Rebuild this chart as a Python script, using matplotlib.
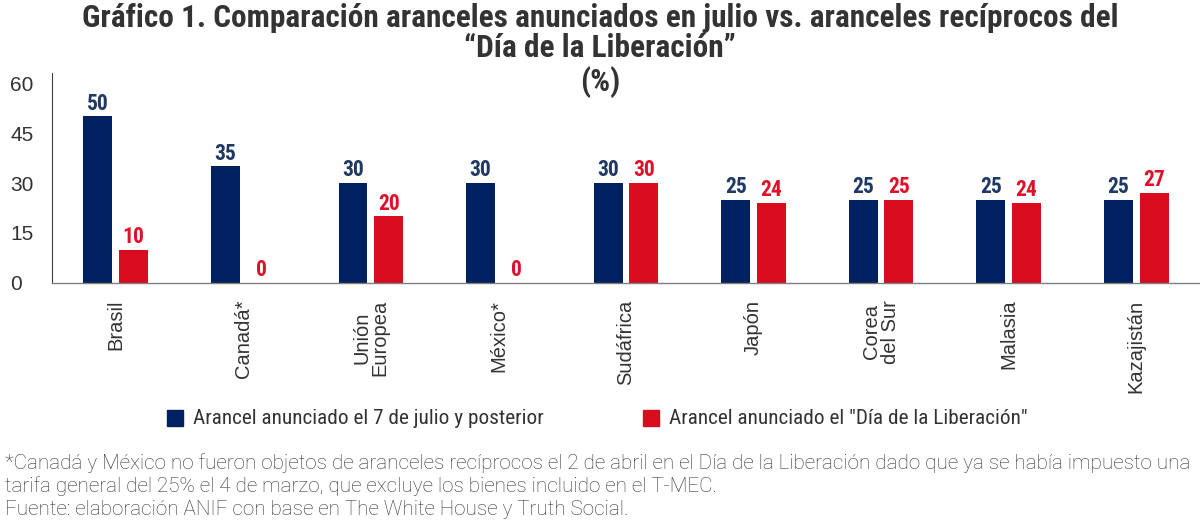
import matplotlib
matplotlib.use("Agg")
import matplotlib.pyplot as plt
import numpy as np
from matplotlib.patches import Rectangle

categories = ["Brasil", "Canadá*", "Unión\nEuropea", "México*", "Sudáfrica",
              "Japón", "Corea\ndel Sur", "Malasia", "Kazajistán"]
julio = [50, 35, 30, 30, 30, 25, 25, 25, 25]
liberacion = [10, 0, 20, 0, 30, 24, 25, 24, 27]
yticks = [0, 15, 30, 45, 60]

series_labels = ["Arancel anunciado el 7 de julio y posterior",
                 'Arancel anunciado el "Día de la Liberación"']

BLUE = "#002060"
RED = "#D90C1F"
BLUE_TXT = "#1F3864"
RED_TXT = "#E0102A"
GRAY = "#333333"

COND = ["Roboto Condensed", "DejaVu Sans"]
ARIAL = ["Liberation Sans", "DejaVu Sans"]
FOOT = ["Roboto", "DejaVu Sans"]

fig = plt.figure(figsize=(12, 5.23), dpi=100)
ax = fig.add_axes([0.0433, 0.4589, 0.9567, 0.4015])

x = np.arange(len(categories))
w = 0.227
off = 0.14
ax.bar(x - off, julio, width=w, color=BLUE)
ax.bar(x + off, liberacion, width=w, color=RED)

for xi, v in zip(x, julio):
    ax.text(xi - off, v + 0.5, f"{v}", ha="center", va="bottom", color=BLUE_TXT,
            fontsize=15.5, fontweight="bold", family=COND)
for xi, v in zip(x, liberacion):
    ax.text(xi + off, v + 0.5, f"{v}", ha="center", va="bottom", color=RED_TXT,
            fontsize=15.5, fontweight="bold", family=COND)

ax.set_xlim(-0.5, len(categories) - 0.5)
ax.set_ylim(0, 63)
ax.set_yticks(yticks)
ax.set_yticklabels([str(t) for t in yticks], fontsize=15, color=GRAY, family=ARIAL)
ax.set_xticks(x)
ax.set_xticklabels(categories, rotation=90, fontsize=14.5, color=GRAY, family=ARIAL,
                   va="top", ha="center", linespacing=0.95)
ax.tick_params(axis="x", length=0, pad=12)
ax.tick_params(axis="y", length=0, pad=30)
for s in ["top", "right"]:
    ax.spines[s].set_visible(False)
ax.spines["left"].set_color("#404040")
ax.spines["bottom"].set_color("#808080")
ax.spines["left"].set_linewidth(0.8)
ax.spines["bottom"].set_linewidth(1.0)
for lab in ax.get_yticklabels():
    lab.set_horizontalalignment("left")

fig.text(0.5, 0.965, "Gráfico 1. Comparación aranceles anunciados en julio vs. aranceles recíprocos del",
         ha="center", va="center", fontsize=22.5, fontweight="bold", color=GRAY, family=COND)
fig.text(0.5, 0.908, "“Día de la Liberación”", ha="center", va="center", fontsize=22.5,
         fontweight="bold", color=GRAY, family=COND)
fig.text(0.5, 0.843, "(%)", ha="center", va="center", fontsize=22.5,
         fontweight="bold", color=GRAY, family=COND)

# legend
for xs, col, lab in [(167, BLUE, series_labels[0]), (643, RED, series_labels[1])]:
    fig.patches.append(Rectangle((xs / 1200, 1 - 425.5 / 523), 16 / 1200, 15.5 / 523,
                                 transform=fig.transFigure, color=col, figure=fig))
    fig.text((xs + 26) / 1200, 1 - 418 / 523, lab, ha="left", va="center", fontsize=15.3,
             color=GRAY, family=COND)

foot = ("*Canadá y México no fueron objetos de aranceles recíprocos el 2 de abril en el Día de la Liberación dado que ya se había impuesto una\n"
        "tarifa general del 25% el 4 de marzo, que excluye los bienes incluido en el T-MEC.\n"
        "Fuente: elaboración ANIF con base en The White House y Truth Social.")
fig.text(0.004, 1 - 486 / 523, foot, ha="left", va="center", fontsize=14.9, color=GRAY,
         family=FOOT, fontweight="light", linespacing=1.22)

fig.savefig("out.png", dpi=100)
